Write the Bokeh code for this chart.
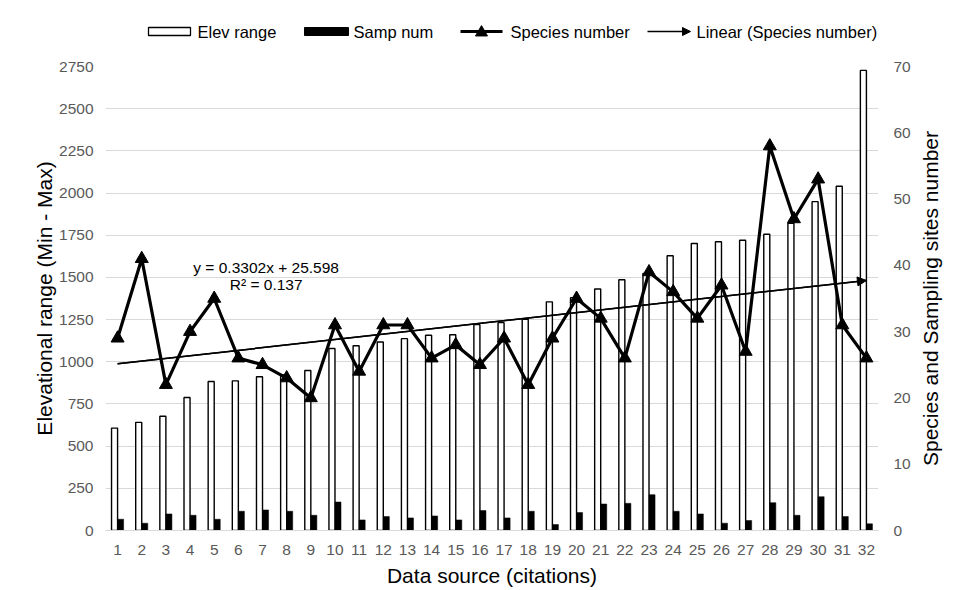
import numpy as np
from bokeh.plotting import figure
from bokeh.layouts import column, row
from bokeh.models import (Range1d, LinearAxis, FixedTicker, Arrow, NormalHead,
                          ColumnDataSource, Label)
from bokeh.transform import dodge
from bokeh.core.properties import value
from bokeh.embed import file_html
from bokeh.resources import INLINE

# ---------------- data ----------------
sources = list(range(1, 33))
elev_range = [607, 641, 677, 788, 883, 887, 911, 922, 948, 1079, 1095, 1117, 1137, 1157,
              1160, 1220, 1232, 1252, 1355, 1380, 1431, 1486, 1524, 1628, 1701, 1711,
              1720, 1756, 1821, 1949, 2040, 2727]
samp_num = [1.7, 1.1, 2.5, 2.3, 1.7, 2.9, 3.1, 2.9, 2.3, 4.3, 1.6, 2.1, 1.9, 2.2, 1.6, 3.0,
            1.9, 2.9, 0.9, 2.7, 4.0, 4.1, 5.4, 2.9, 2.5, 1.1, 1.5, 4.2, 2.3, 5.1, 2.1, 1.0]
species_number = [29, 41, 22, 30, 35, 26, 25, 23, 20, 31, 24, 31, 31, 26, 28, 25, 29, 22,
                  29, 35, 32, 26, 39, 36, 32, 37, 27, 58, 47, 53, 31, 26]
left_ticks = list(range(0, 2751, 250))
right_ticks = list(range(0, 71, 10))
legend_labels = ["Elev range", "Samp num", "Species number", "Linear (Species number)"]
right_title = "Species and Sampling sites number"
eq_label = "y = 0.3302x + 25.598"
r2_label = "R\u00b2 = 0.137"

FONT = "Liberation Sans"
TICK_COLOR = "#595959"
GRID = "#d9d9d9"
W = 952
LEG_H = 50
MAIN_H = 589 - LEG_H
BL, BR, BT, BB = 105, 74, 66 - LEG_H, 59       # borders around the plotting frame
FRAME_R = W - BR                               # 878
TITLE_W = 34

# ---------------- legend strip (page-pixel coordinates) ----------------
lg = figure(width=W, height=LEG_H, output_backend="svg", toolbar_location=None,
            x_range=Range1d(BL, FRAME_R), y_range=Range1d(LEG_H, 0),
            x_axis_location=None, y_axis_location=None,
            min_border_left=BL, min_border_right=BR, min_border_top=0, min_border_bottom=0)
lg.outline_line_color = None
lg.grid.visible = False
lg.border_fill_color = "white"
ly = 31  # legend row centre
lg.quad(left=[148], right=[190], top=[ly - 4], bottom=[ly + 4],
        fill_color="white", line_color="black", line_width=1.3)
lg.quad(left=[304], right=[348], top=[ly - 4], bottom=[ly + 4],
        fill_color="black", line_color="black", line_width=1)
lg.line(x=[460, 502], y=[ly, ly], line_color="black", line_width=3.2)
lg.scatter(x=[481], y=[ly + 1], marker="triangle", size=12, fill_color="black",
           line_color="black")
lg.add_layout(Arrow(end=NormalHead(size=8, fill_color="black", line_color="black", line_width=1),
                    x_start=647, y_start=ly, x_end=690, y_end=ly,
                    line_color="black", line_width=1.5))
lg.text(x=[197, 353, 510, 696], y=[ly] * 4, text=legend_labels,
        text_font=value(FONT), text_font_size="16.5px", text_color="black",
        text_align="left", text_baseline="middle")

# ---------------- main chart ----------------
src = ColumnDataSource(dict(x=sources, elev=elev_range, samp=samp_num, sp=species_number))

p = figure(width=W - TITLE_W, height=MAIN_H, output_backend="svg", toolbar_location=None,
           x_range=Range1d(0.5, 32.5), y_range=Range1d(0, 2750),
           min_border_left=BL, min_border_right=W - TITLE_W - FRAME_R,
           min_border_top=BT, min_border_bottom=BB)
p.extra_y_ranges = {"right": Range1d(0, 70)}
p.outline_line_color = None
p.background_fill_color = "white"
p.border_fill_color = "white"

p.xgrid.visible = False
p.ygrid.grid_line_color = GRID
p.ygrid.grid_line_width = 1

def style_axis(ax, standoff, title, title_standoff):
    ax.axis_line_color = None
    ax.major_tick_line_color = None
    ax.minor_tick_line_color = None
    ax.major_tick_out = 0
    ax.major_tick_in = 0
    ax.minor_tick_out = 0
    ax.minor_tick_in = 0
    ax.major_label_text_font = FONT
    ax.major_label_text_font_size = "15.5px"
    ax.major_label_text_color = TICK_COLOR
    ax.major_label_standoff = standoff
    if title:
        ax.axis_label = title
        ax.axis_label_text_font = FONT
        ax.axis_label_text_font_size = "21px"
        ax.axis_label_text_font_style = "normal"
        ax.axis_label_text_color = "black"
        ax.axis_label_standoff = title_standoff

ya = p.yaxis[0]
ya.ticker = FixedTicker(ticks=left_ticks)
style_axis(ya, 12, "Elevational range (Min - Max)", 0)
p.ygrid.ticker = ya.ticker

ra = LinearAxis(y_range_name="right", ticker=FixedTicker(ticks=right_ticks))
style_axis(ra, 15, None, 0)
p.add_layout(ra, "right")

xa = p.xaxis[0]
xa.ticker = FixedTicker(ticks=sources)
style_axis(xa, 14, "Data source (citations)", 6)
xa.axis_line_color = GRID
xa.axis_line_width = 1

# bars
p.vbar(x=dodge("x", -0.125, range=p.x_range), top="elev", bottom=0, width=0.25,
       source=src, fill_color="white", line_color="black", line_width=1.4)
p.vbar(x=dodge("x", 0.125, range=p.x_range), top="samp", bottom=0, width=0.25,
       source=src, fill_color="black", line_color="black", line_width=0.5,
       y_range_name="right")

# linear trend of species number
coef = np.polyfit(sources, species_number, 1)
tx = [sources[0], sources[-1]]
ty = list(np.polyval(coef, tx))
p.line(x=tx, y=ty, line_color="black", line_width=1.5, y_range_name="right")
p.add_layout(Arrow(end=NormalHead(size=9, fill_color="black", line_color="black", line_width=1),
                   x_start=tx[0], y_start=ty[0], x_end=tx[1], y_end=ty[1],
                   line_color="black", line_width=1.5, y_range_name="right"))

# species number
p.line(x="x", y="sp", source=src, line_color="black", line_width=3.2, y_range_name="right")
p.scatter(x="x", y="sp", source=src, marker="triangle", size=13,
          fill_color="black", line_color="black", y_range_name="right")

# equation labels
p.add_layout(Label(x=7.15, y=1556, text=eq_label, text_align="center", text_baseline="middle",
                   text_font=FONT, text_font_size="15.5px", text_color="black"))
p.add_layout(Label(x=7.15, y=1458, text=r2_label, text_align="center", text_baseline="middle",
                   text_font=FONT, text_font_size="15.5px", text_color="black"))

# ---------------- right axis title strip (reads bottom-to-top) ----------------
tf = figure(width=TITLE_W, height=MAIN_H, output_backend="svg", toolbar_location=None,
            x_range=Range1d(0, TITLE_W), y_range=Range1d(0, 1),
            x_axis_location=None, y_axis_location=None,
            min_border_left=0, min_border_right=0, min_border_top=BT, min_border_bottom=BB)
tf.outline_line_color = None
tf.grid.visible = False
tf.border_fill_color = "white"
tf.text(x=[12], y=[0.5], text=[right_title], angle=np.pi / 2,
        text_font=value(FONT), text_font_size="21px", text_color="black",
        text_align="center", text_baseline="middle")

layout = column(lg, row(p, tf, spacing=0), spacing=0)
open("out.html", "w").write(file_html(layout, INLINE))
